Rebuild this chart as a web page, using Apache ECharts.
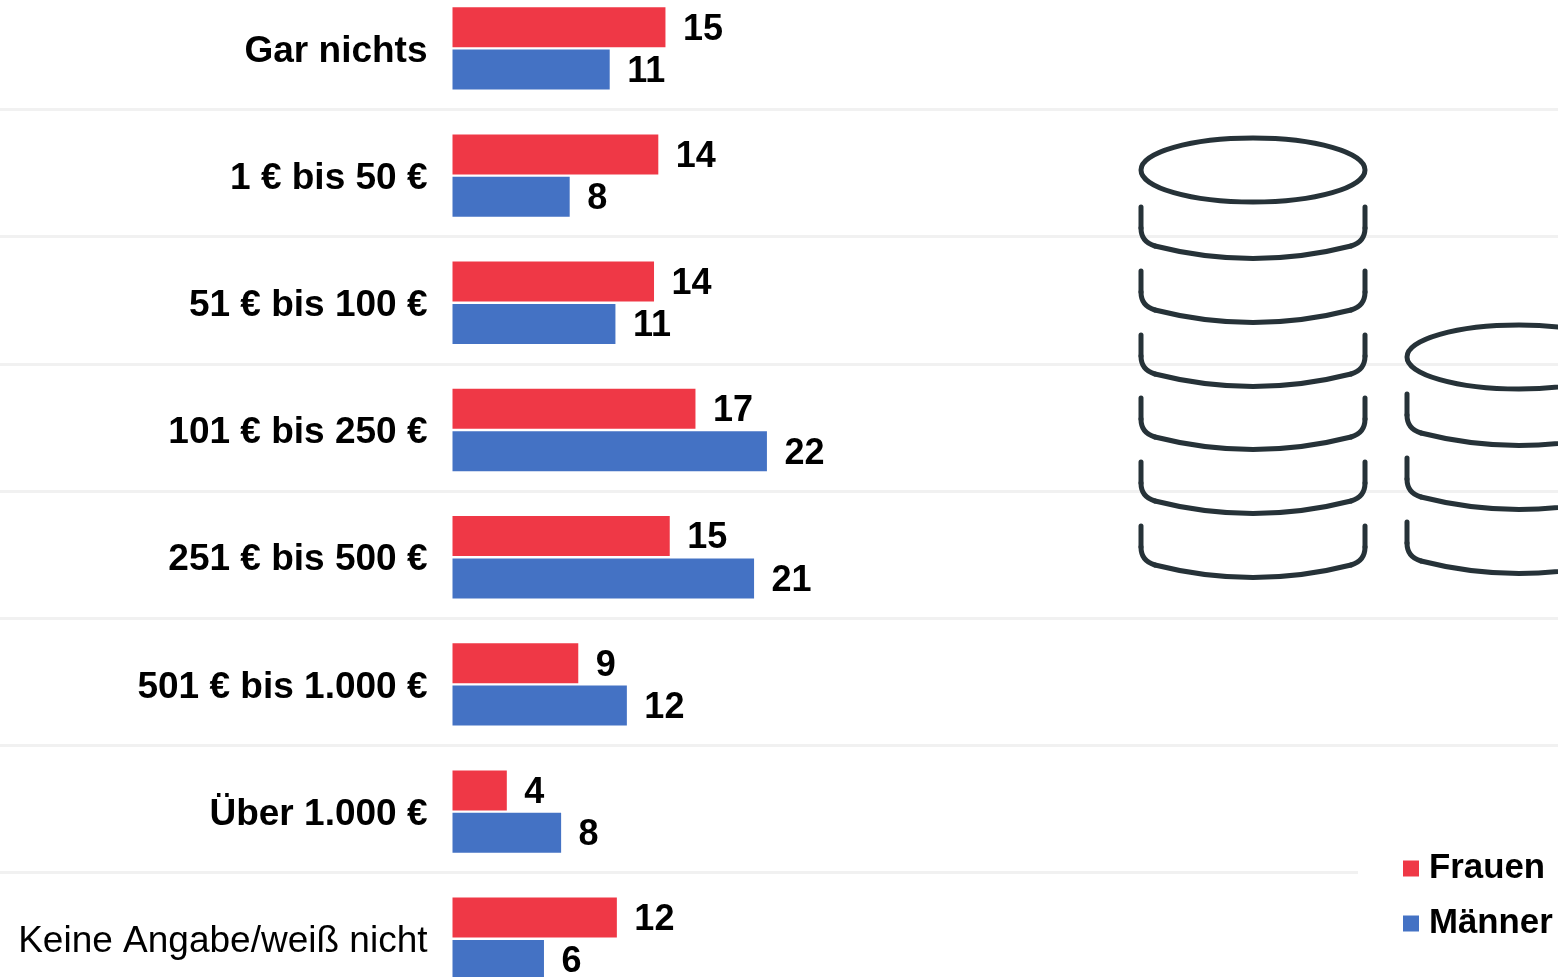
<!DOCTYPE html>
<html>
<head>
<meta charset="utf-8">
<style>html,body{margin:0;padding:0;background:#fff;overflow:hidden}#c{width:1558px;height:977px}</style>
<script src="https://cdn.jsdelivr.net/npm/echarts@6/dist/echarts.min.js"></script>
</head>
<body>
<div id="c"></div>
<script>
const categories = ['Gar nichts','1 € bis 50 €','51 € bis 100 €','101 € bis 250 €','251 € bis 500 €','501 € bis 1.000 €','Über 1.000 €','Keine Angabe/weiß nicht'];
const frauen = [14.9,14.4,14.1,17.0,15.2,8.8,3.8,11.5];
const maenner = [11.0,8.2,11.4,22.0,21.1,12.2,7.6,6.4];
const FONT = '"Liberation Sans", Arial, sans-serif';
const COIN = '#263238';

function coinStack(cx, topY, arcTops) {
  const rx = 112, parts = [];
  const st = {fill:'none', stroke:COIN, lineWidth:5, lineCap:'round'};
  parts.push({type:'ellipse', z:100, shape:{cx:cx, cy:topY, rx:rx, ry:32}, style:{fill:'none', stroke:COIN, lineWidth:5}, silent:true});
  arcTops.forEach(y => {
    const l = cx-rx, r = cx+rx;
    const add = (type, shape) => parts.push({type, z:100, shape, style:st, silent:true});
    add('line', {x1:l, y1:y, x2:l, y2:y+21});
    add('bezierCurve', {x1:l, y1:y+21, cpx1:l, cpy1:y+35, x2:l+14, y2:y+39});
    add('bezierCurve', {x1:l+14, y1:y+39, cpx1:cx, cpy1:y+64, x2:r-14, y2:y+39});
    add('bezierCurve', {x1:r-14, y1:y+39, cpx1:r, cpy1:y+35, x2:r, y2:y+21});
    add('line', {x1:r, y1:y+21, x2:r, y2:y});
  });
  return parts;
}

const chart = echarts.init(document.getElementById('c'), null, {renderer:'canvas'});
const valueLabel = {show:true, position:'right', distance:17.5, offset:[0,2.5], color:'#000', fontFamily:FONT, fontWeight:'bold', fontSize:36,
  formatter:p => String(Math.round(p.value))};
chart.setOption({
  animation:false,
  backgroundColor:'#fff',
  grid:[
    {left:452.5, top:-15.2, width:1105.5, height:1017.6, outerBoundsMode:'none', containLabel:false},
    {left:0, top:-17.7, width:1558, height:1017.6, outerBoundsMode:'none', containLabel:false}
  ],
  legend:{
    orient:'vertical', left:1358, top:845, padding:[6,12,6,45], itemWidth:16, itemHeight:16, itemGap:20, z:10,
    backgroundColor:'#fff', icon:'rect',
    textStyle:{color:'#000', fontFamily:FONT, fontWeight:'bold', fontSize:34.8, padding:[0,0,0,5]},
    data:['Frauen','Männer']
  },
  xAxis:[
    {type:'value', gridIndex:0, min:0, max:77.35, show:false, splitLine:{show:false}},
    {type:'value', gridIndex:1, min:0, max:1, show:false, splitLine:{show:false}}
  ],
  yAxis:[
    {
      type:'category', gridIndex:0, inverse:true,
      data:categories.map((c,i)=> i===categories.length-1
        ? {value:c, textStyle:{fontWeight:'normal', color:'#000', fontFamily:FONT, fontSize:37, verticalAlign:'top', lineHeight:6}} : c),
      axisLine:{show:false}, axisTick:{show:false},
      axisLabel:{margin:25, color:'#000', fontFamily:FONT, fontWeight:'bold', fontSize:37, verticalAlign:'top', lineHeight:6},
      splitLine:{show:false}
    },
    {
      type:'category', gridIndex:1, inverse:true, data:categories,
      axisLine:{show:false}, axisTick:{show:false}, axisLabel:{show:false},
      splitLine:{show:true, lineStyle:{color:'#F1F1F1', width:3}}
    }
  ],
  series:[
    {name:'Frauen', type:'bar', data:frauen, barWidth:40, barGap:'6%', itemStyle:{color:'#EF3846'}, label:valueLabel},
    {name:'Männer', type:'bar', data:maenner, barWidth:40, barGap:'6%', itemStyle:{color:'#4472C4'}, label:valueLabel}
  ],
  graphic:{elements:[
    ...coinStack(1253,170,[207,271,335,398,462,526]),
    ...coinStack(1519,357,[394,458,522])
  ]}
});
</script>
</body>
</html>
